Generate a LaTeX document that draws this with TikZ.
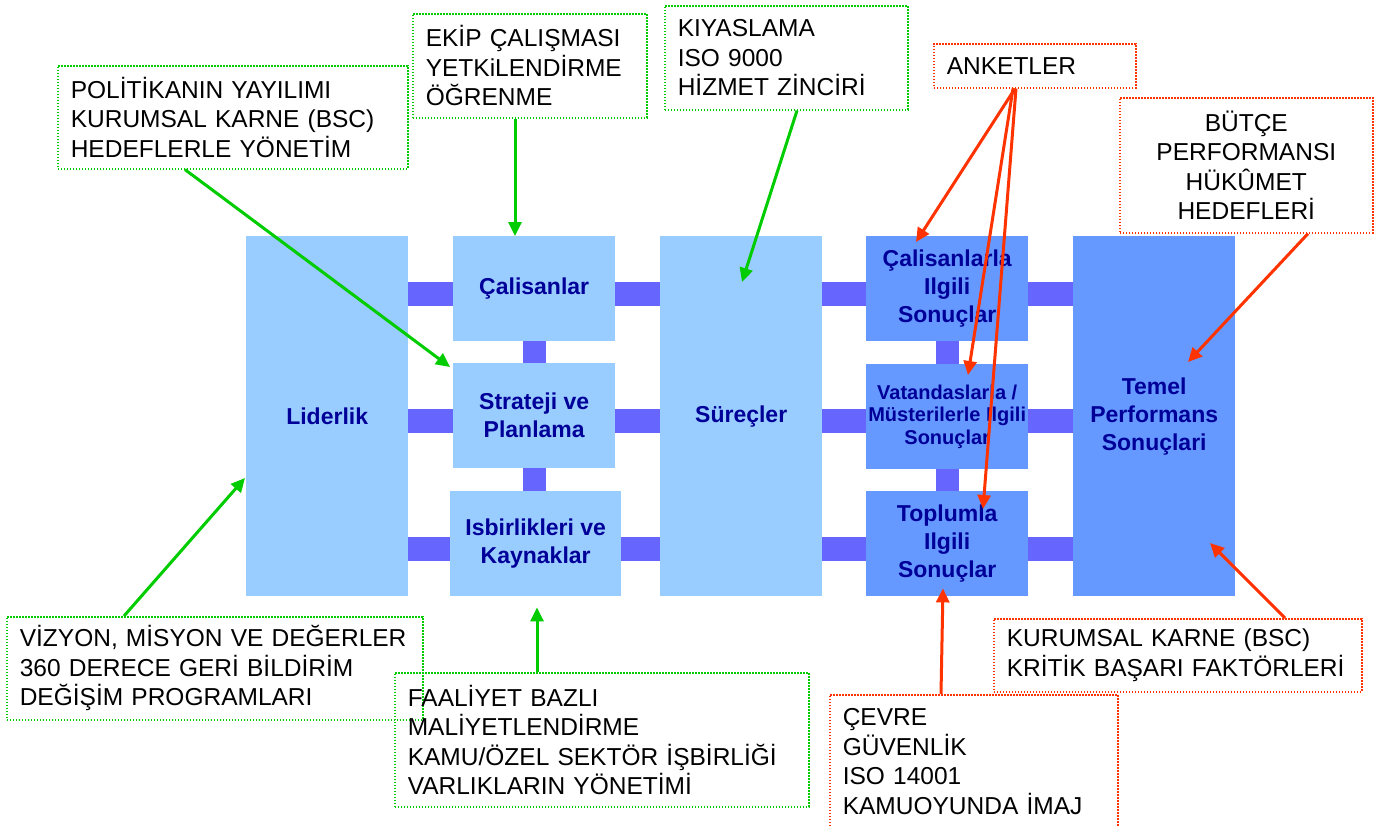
\documentclass[tikz,border=0pt]{standalone}
\usepackage{fontspec}
\setmainfont{Liberation Sans}
\usetikzlibrary{arrows.meta,calc,backgrounds}
\definecolor{lblue}{HTML}{99CCFF}
\definecolor{mblue}{HTML}{6699FF}
\definecolor{barc}{HTML}{6666FF}
\definecolor{navy}{HTML}{000099}
\definecolor{gr}{HTML}{00CC00}
\definecolor{rd}{HTML}{FF3300}
\begin{document}
\begin{tikzpicture}[x=1pt,y=-1pt,
 blk/.style={fill=lblue, inner sep=0pt, anchor=north west, align=center, text=navy, font=\fontsize{23}{28}\selectfont\bfseries},
 dblk/.style={blk, fill=mblue},
 lbl/.style={draw, line width=1.6pt, dash pattern=on 1.6pt off 1.4pt, inner xsep=13pt, inner ysep=0pt, anchor=north west, align=left, font={\fontsize{24.5}{29.5}\selectfont\hyphenpenalty=10000}},
 glbl/.style={lbl, draw=gr}, rlbl/.style={lbl, draw=rd},
 bar/.style={line width=24pt, draw=barc, shorten <=-3pt, shorten >=-3pt},
 vbar/.style={line width=23pt, draw=barc, shorten <=-3pt, shorten >=-3pt},
 garr/.style={draw=gr, line width=3pt, -{Triangle[length=14pt,width=13pt]}},
 rarr/.style={draw=rd, line width=3pt, -{Triangle[length=14pt,width=13pt]}}]
\useasboundingbox (0,0) rectangle (1374,827);
\clip (0,0) rectangle (1374,827);

% main boxes
\node[blk, minimum width=162pt, minimum height=360pt] (lid) at (246,236) {Liderlik};
\node[blk, minimum width=162pt, minimum height=105pt] (cal) at (453,236) {Çalisanlar};
\node[blk, minimum width=162pt, minimum height=105pt] (str) at (453,363) {Strateji ve\\Planlama};
\node[blk, minimum width=171pt, minimum height=105pt] (isb) at (450,491) {Isbirlikleri ve\\Kaynaklar};
\node[blk, minimum width=162pt, minimum height=360pt] (sur) at (660,236) {Süreçler};
\node[dblk, minimum width=162pt, minimum height=105pt] (csl) at (866,236) {Çalisanlarla\\Ilgili\\Sonuçlar};
\node[dblk, minimum width=162pt, minimum height=105pt, font=\fontsize{20}{22.5}\selectfont\bfseries] (vat) at (866,364) {Vatandaslarla /\\Müsterilerle Ilgili\\Sonuçlar};
\node[dblk, minimum width=162pt, minimum height=105pt] (top) at (866,491) {Toplumla\\Ilgili\\Sonuçlar};
\node[dblk, minimum width=162pt, minimum height=360pt] (tem) at (1073,236) {Temel\\Performans\\Sonuçlari};

% connecting bars
\begin{pgfonlayer}{background}
\draw[bar] ($(lid.east|-cal)+(0,5.5)$) -- ($(cal.west)+(0,5.5)$);
\draw[bar] ($(cal.east)+(0,5.5)$) -- ($(sur.west|-cal)+(0,5.5)$);
\draw[bar] ($(sur.east|-csl)+(0,5.5)$) -- ($(csl.west)+(0,5.5)$);
\draw[bar] ($(csl.east)+(0,5.5)$) -- ($(tem.west|-csl)+(0,5.5)$);
\draw[bar] ($(lid.east|-str)+(0,5.5)$) -- ($(str.west)+(0,5.5)$);
\draw[bar] ($(str.east)+(0,5.5)$) -- ($(sur.west|-str)+(0,5.5)$);
\draw[bar] ($(sur.east|-str)+(0,5.5)$) -- ($(vat.west|-str)+(0,5.5)$);
\draw[bar] ($(vat.east|-str)+(0,5.5)$) -- ($(tem.west|-str)+(0,5.5)$);
\draw[bar] ($(lid.east|-isb)+(0,5.5)$) -- ($(isb.west)+(0,5.5)$);
\draw[bar] ($(isb.east)+(0,5.5)$) -- ($(sur.west|-isb)+(0,5.5)$);
\draw[bar] ($(sur.east|-isb)+(0,5.5)$) -- ($(top.west|-isb)+(0,5.5)$);
\draw[bar] ($(top.east|-isb)+(0,5.5)$) -- ($(tem.west|-isb)+(0,5.5)$);
\draw[vbar] (cal.south) -- (str.north);
\draw[vbar] (str.south) -- (str.south|-isb.north);
\draw[vbar] (csl.south) -- (vat.north);
\draw[vbar] (vat.south) -- (top.north);
\end{pgfonlayer}

% label boxes
\node[glbl, text width=324pt, minimum height=103pt] (pol) at (57,65) {POLİTİKANIN YAYILIMI\\KURUMSAL KARNE (BSC)\\HEDEFLERLE YÖNETİM};
\node[glbl, text width=208pt, minimum height=104pt] (ekip) at (412,13) {EKİP ÇALIŞMASI\\YETKiLENDİRME\\ÖĞRENME};
\node[glbl, text width=217pt, minimum height=104pt] (kiy) at (664,5) {KIYASLAMA\\ISO 9000\\HİZMET ZİNCİRİ};
\node[rlbl, text width=176pt, minimum height=44pt] (ank) at (933,43) {ANKETLER};
\node[rlbl, text width=227pt, minimum height=135pt, align=center] (but) at (1119,97) {BÜTÇE\\PERFORMANSI\\HÜKÛMET\\HEDEFLERİ};
\node[glbl, text width=390pt, minimum height=103pt] (viz) at (6,616) {VİZYON, MİSYON VE DEĞERLER\\360 DERECE GERİ BİLDİRİM\\DEĞİŞİM PROGRAMLARI};
\node[glbl, text width=388pt, minimum height=134pt] (faal) at (394,672) {FAALİYET BAZLI\\MALİYETLENDİRME\\KAMU/ÖZEL SEKTÖR İŞBİRLİĞİ\\VARLIKLARIN YÖNETİMİ};
\node[rlbl, text width=342pt, minimum height=73pt] (kur) at (993,618) {KURUMSAL KARNE (BSC)\\KRİTİK BAŞARI FAKTÖRLERİ};
\node[rlbl, text width=262pt, minimum height=134pt] (cev) at (829,694) {ÇEVRE\\GÜVENLİK\\ISO 14001\\KAMUOYUNDA İMAJ};

% arrows
\draw[garr] ($(pol.south west)+(128,0)$) -- ($(str.north west)+(-3,4)$);
\draw[garr] ($(ekip.south west)+(103,0)$) -- ($(cal.north west)+(62,0)$);
\draw[garr] ($(kiy.south west)+(133,0)$) -- ($(sur.north west)+(82,46)$);
\draw[garr] ($(viz.north west)+(118,0)$) -- ($(lid.north west)+(-1,242)$);
\draw[garr] ($(faal.north west)+(143,0)$) -- ($(isb.south west)+(87,11)$);
\draw[rarr] ($(ank.south west)+(82,0)$) -- ($(csl.north west)+(50,6)$);
\draw[rarr] ($(ank.south west)+(80,0)$) -- ($(vat.north west)+(102,11)$);
\draw[rarr] ($(ank.south west)+(83,0)$) -- ($(top.north west)+(117,18)$);
\draw[rarr] ($(but.south west)+(189,0)$) -- ($(tem.north west)+(115,126)$);
\draw[rarr] ($(kur.north west)+(292,0)$) -- ($(tem.north west)+(137,307)$);
\draw[rarr] ($(cev.north west)+(112,0)$) -- ($(top.south west)+(77,-8)$);
\end{tikzpicture}
\end{document}
